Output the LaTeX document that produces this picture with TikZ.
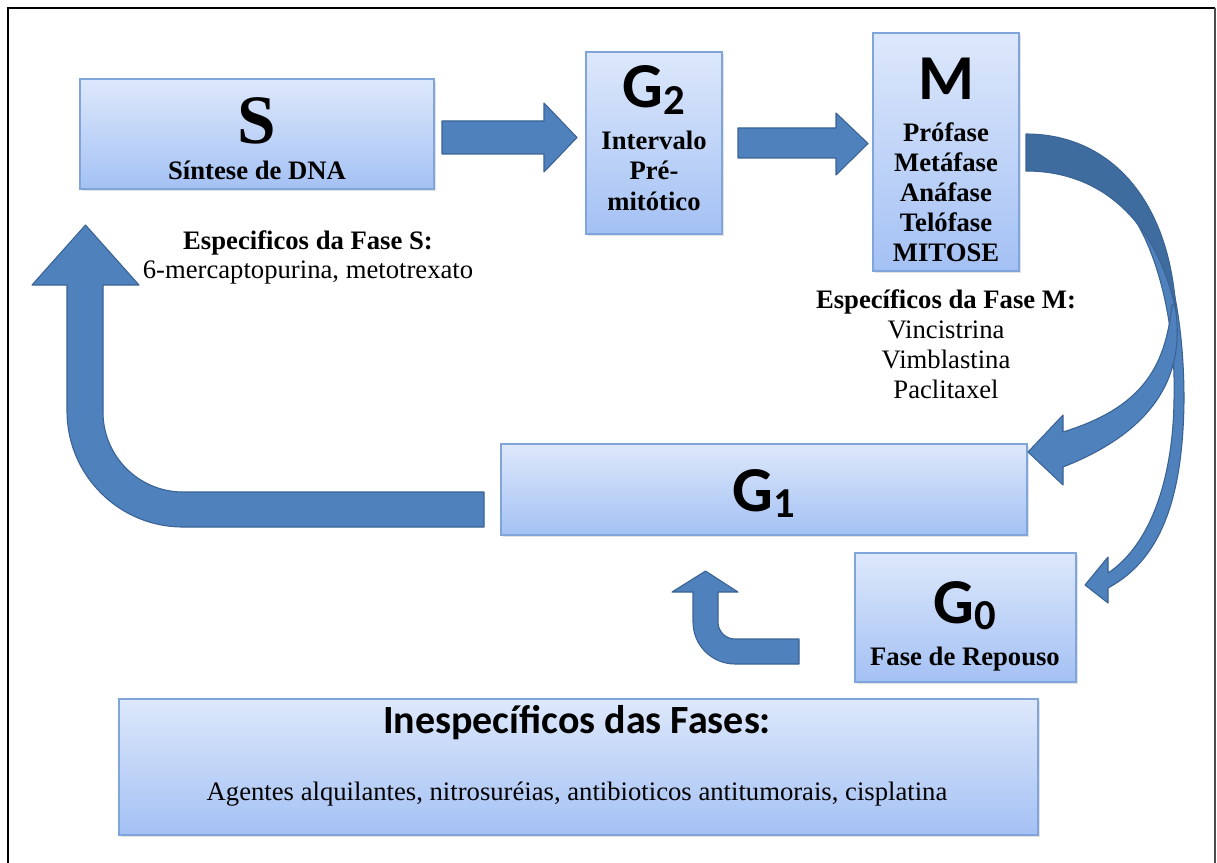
\documentclass[tikz,border=0pt]{standalone}
\usepackage{fontspec}
\setmainfont{Liberation Serif}
\newfontfamily\calfont{Carlito}
\usetikzlibrary{shadows,fit}
\definecolor{boxtop}{HTML}{DDE8FB}
\definecolor{boxbot}{HTML}{A4C1F4}
\definecolor{boxline}{HTML}{7FA5DA}
\definecolor{arrfill}{HTML}{4F81BD}
\definecolor{arrline}{HTML}{3A6394}
\definecolor{arrdark}{HTML}{3F6C9E}
\begin{document}
\begin{tikzpicture}[x=0.75pt,y=-0.75pt,
  box/.style={draw=boxline, line width=0.9pt, top color=boxtop, bottom color=boxbot,
    inner sep=0pt, drop shadow={opacity=0.22, shadow xshift=1.5pt, shadow yshift=-1.5pt}},
  blockarrow/.style={fill=arrfill, draw=arrline, line width=0.8pt, line join=round},
  darkribbon/.style={fill=arrdark, draw=arrline, line width=0.8pt, line join=round},
  tr/.style={anchor=base, inner sep=0pt, font=\fontsize{20}{22}\selectfont},
  tb/.style={anchor=base, inner sep=0pt, font=\bfseries\fontsize{20}{22}\selectfont},
  big/.style={anchor=base, inner sep=0pt, font=\calfont\bfseries\fontsize{48}{48}\selectfont}]
\fill[white] (0,0) rectangle (1217,863);
\useasboundingbox (0,0) rectangle (1217,863);
% frame
\draw[black, line width=2pt] (8,863) -- (8,8) -- (1215,8);
\draw[black!70, line width=1pt] (1215,8) -- (1215,863);

% boxes
\node[box, fit={(80,79) (434,189)}] (S) {};
\node[box, fit={(586,52) (722,234)}] (G2) {};
\node[box, fit={(873,33) (1019,271)}] (M) {};
\node[box, fit={(501,444) (1027,535)}] (G1) {};
\node[box, fit={(855,553) (1076,682)}] (G0) {};
\node[box, fit={(119,699) (1038,835)}] (In) {};

% box texts
\node[anchor=base, inner sep=0pt, font=\bfseries\fontsize{52}{52}\selectfont] (Sl) at (257,144) {S};
\node[tb] (Ssub) at (257,180) {Síntese de DNA};
\node[big] (G2l) at (654,108) {G\raisebox{-5pt}{\fontsize{32}{32}\selectfont 2}};
\node[tb] (g2a) at (654,150) {Intervalo};
\node[tb] (g2b) at (654,180) {Pré-};
\node[tb] (g2c) at (654,210) {mitótico};
\node[big] (Ml) at (946,100) {M};
\node[tb] (m1) at (946,142) {Prófase};
\node[tb] (m2) at (946,172) {Metáfase};
\node[tb] (m3) at (946,202) {Anáfase};
\node[tb] (m4) at (946,231) {Telófase};
\node[tb] (m5) at (946,261) {MITOSE};
\node[big] (G1l) at (764,511) {G\raisebox{-5pt}{\fontsize{32}{32}\selectfont 1}};
\node[big] (G0l) at (965,623) {G\raisebox{-5pt}{\fontsize{32}{32}\selectfont 0}};
\node[tb] (G0sub) at (965,665) {Fase de Repouso};
\node[anchor=base, inner sep=0pt, font=\calfont\bfseries\fontsize{30}{31}\selectfont] (Inh) at (577,733) {Inespecíficos das Fases:};
\node[tr] (Inb) at (577,800) {Agentes alquilantes, nitrosuréias, antibioticos antitumorais, cisplatina};

% free labels
\node[tb] (fs1) at (308,249) {Especificos da Fase S:};
\node[tr] (fs2) at (308,278) {6-mercaptopurina, metotrexato};
\node[tb] (fm1) at (946,308) {Específicos da Fase M:};
\node[tr] (fm2) at (946,338) {Vincistrina};
\node[tr] (fm3) at (946,368) {Vimblastina};
\node[tr] (fm4) at (946,398) {Paclitaxel};

% straight block arrows
\draw[blockarrow] (442,121) -- (544,121) -- (544,103) -- (577,137.5) -- (544,172) -- (544,154) -- (442,154) -- cycle;
\draw[blockarrow] (738,128) -- (836,128) -- (836,113) -- (868,143.5) -- (836,175) -- (836,158) -- (738,158) -- cycle;

% U arrow G1 -> S
\draw[blockarrow] (484,492) -- (183,492) .. controls (138.8,492) and (103,456.2) .. (103,412)
  -- (103,285) -- (139,285) -- (85.5,225) -- (32,285) -- (67,285) -- (67,411)
  .. controls (67,475.1) and (118.9,527) .. (183,527) -- (484,527) -- cycle;

% small arrow G0 -> G1
\draw[blockarrow] (799,639) -- (735,639) .. controls (725.6,639) and (718,631.4) .. (718,622)
  -- (718,592) -- (738,592) -- (705.5,571) -- (672,592) -- (693,592) -- (693,622)
  .. controls (693,645.2) and (711.8,664) .. (735,664) -- (799,664) -- cycle;

% curved split arrow M -> G0 (thin branch, starts hidden under the ribbon)
\draw[blockarrow] (1140,200) .. controls (1170,250) and (1184,320) .. (1184,400)
  .. controls (1183,500) and (1160,560) .. (1108,588)
  -- (1108,603) -- (1085,585) -- (1108,557) -- (1108,573)
  .. controls (1150,545) and (1173,480) .. (1174,400)
  .. controls (1176,330) and (1160,250) .. (1125,205) -- cycle;
% curved arrow M -> G1 (lower ribbon)
\draw[blockarrow] (1175,305) .. controls (1184,360) and (1170,425) .. (1063,467)
  -- (1063,485) -- (1028,452) -- (1063,415) -- (1063,432)
  .. controls (1140,408) and (1165,370) .. (1172,305) -- cycle;
% upper ribbon
\draw[darkribbon] (1026,134) .. controls (1110,134) and (1170,200) .. (1176,312)
  .. controls (1160,232) and (1110,171) .. (1026,171) -- cycle;
\end{tikzpicture}
\end{document}
